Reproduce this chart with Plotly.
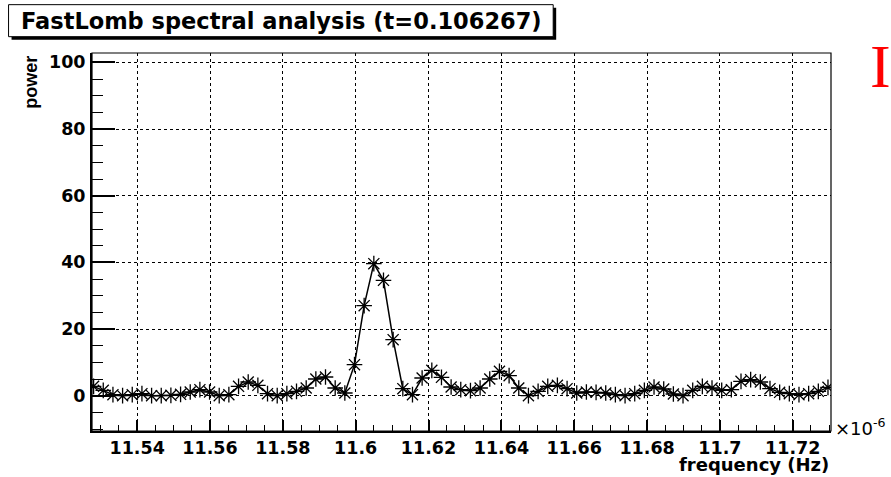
import plotly.graph_objects as go

# ---------------- data ----------------
freq = [11.52804, 11.53069, 11.53335, 11.53600, 11.53865, 11.54131, 11.54396, 11.54661,
        11.54926, 11.55192, 11.55457, 11.55722, 11.55988, 11.56253, 11.56518, 11.56784,
        11.57049, 11.57314, 11.57579, 11.57845, 11.58110, 11.58375, 11.58641, 11.58906,
        11.59171, 11.59437, 11.59702, 11.59967, 11.60232, 11.60498, 11.60763, 11.61028,
        11.61294, 11.61559, 11.61824, 11.62090, 11.62355, 11.62620, 11.62885, 11.63151,
        11.63416, 11.63681, 11.63947, 11.64212, 11.64477, 11.64743, 11.65008, 11.65273,
        11.65538, 11.65804, 11.66069, 11.66334, 11.66600, 11.66865, 11.67130, 11.67396,
        11.67661, 11.67926, 11.68191, 11.68457, 11.68722, 11.68987, 11.69253, 11.69518,
        11.69783, 11.70049, 11.70314, 11.70579, 11.70844, 11.71110, 11.71375, 11.71640,
        11.71906, 11.72171, 11.72436, 11.72702, 11.72967]

power = [2.8, 1.6, 0.3, 0.0, 0.3, 0.6, 0.0, 0.0, 0.1, 0.4, 1.1, 1.8, 1.1, 0.0, 0.3,
         2.8, 4.1, 3.1, 0.6, 0.0, 0.6, 1.3, 2.3, 5.0, 5.6, 2.3, 0.8, 9.3, 27.0, 39.6,
         34.6, 16.8, 2.1, 0.3, 5.3, 7.6, 5.5, 2.6, 1.8, 1.5, 2.3, 5.0, 7.3, 6.0, 2.3,
         0.0, 1.3, 2.8, 3.1, 2.1, 0.8, 1.1, 1.0, 0.8, 0.3, 0.0, 0.6, 1.6, 2.6, 2.0,
         0.5, 0.0, 1.6, 2.8, 2.3, 1.6, 1.8, 4.3, 4.8, 4.1, 2.1, 1.0, 0.6, 0.3, 0.6,
         1.3, 2.5]

x_tickvals = [11.54, 11.56, 11.58, 11.60, 11.62, 11.64, 11.66, 11.68, 11.70, 11.72]
x_ticktext = ["11.54", "11.56", "11.58", "11.6", "11.62", "11.64", "11.66", "11.68", "11.7", "11.72"]
y_tickvals = [0, 20, 40, 60, 80, 100]
y_ticktext = ["0", "20", "40", "60", "80", "100"]

title_text = "FastLomb spectral analysis (t=0.106267)"
x_title = "frequency (Hz)"
y_title = "power"
exponent_text = "\u00d710<sup>-6</sup>"
corner_text = "I"

# ---------------- layout geometry ----------------
W, H = 891, 477
L, R, T, B = 91.5, 60, 53.3, 46
PW = W - L - R
PH = H - T - B


def px(x):
    return (x - L) / PW


def py(y):
    return (H - B - y) / PH


BOLD = "DejaVu Sans"

fig = go.Figure(
    go.Scatter(
        x=freq, y=power, mode="lines+markers",
        line=dict(color="black", width=1.5),
        marker=dict(symbol="asterisk-open", size=13, color="black",
                    line=dict(color="black", width=1.3)),
        hoverinfo="skip",
    )
)

axis_common = dict(
    ticks="inside", tickcolor="black", tickwidth=1.5,
    showline=True, linecolor="black", linewidth=2, mirror=False,
    showgrid=True, gridcolor="black", griddash="dot", gridwidth=1,
    zeroline=False,
)

fig.update_layout(
    width=W, height=H, autosize=False,
    margin=dict(l=L, r=R, t=T, b=B, pad=0),
    paper_bgcolor="white", plot_bgcolor="white",
    showlegend=False,
    xaxis=dict(
        range=[11.5276, 11.7305],
        tickmode="array", tickvals=x_tickvals, ticktext=x_ticktext,
        ticklen=11,
        tickfont=dict(family=BOLD, size=17.5, color="black", weight="bold"),
        minor=dict(tickmode="linear", tick0=11.54, dtick=0.005, ticks="inside",
                   ticklen=6, tickcolor="black", tickwidth=1.2, showgrid=False),
        **axis_common,
    ),
    yaxis=dict(
        range=[-10.6, 102.8],
        tickmode="array", tickvals=y_tickvals, ticktext=y_ticktext,
        ticklen=23, ticklabelstandoff=1,
        tickfont=dict(family=BOLD, size=17.5, color="black", weight="bold"),
        minor=dict(tickmode="linear", tick0=0, dtick=5, ticks="inside",
                   ticklen=11, tickcolor="black", tickwidth=1.2, showgrid=False),
        **axis_common,
    ),
)

shapes = [
    # frame (top / right)
    dict(type="rect", xref="paper", yref="paper", x0=0, x1=1, y0=0, y1=1,
         line=dict(color="black", width=1.2), layer="above"),
    # title box shadow
    dict(type="rect", xref="paper", yref="paper",
         x0=px(11), x1=px(556), y0=py(40), y1=py(8),
         fillcolor="black", line=dict(width=0)),
    # title box
    dict(type="rect", xref="paper", yref="paper",
         x0=px(8), x1=px(553), y0=py(37), y1=py(5),
         fillcolor="white", line=dict(color="black", width=1)),
]
fig.update_layout(shapes=shapes)

annotations = [
    dict(text=title_text, x=px(281), y=py(21), xref="paper", yref="paper",
         xanchor="center", yanchor="middle", showarrow=False,
         font=dict(family=BOLD, size=22.5, color="black", weight="bold")),
    dict(text=y_title, x=px(31), y=py(54), xref="paper", yref="paper",
         xanchor="center", yanchor="top", textangle=-90, showarrow=False,
         font=dict(family="Liberation Sans", size=18, color="black", weight="bold")),
    dict(text=x_title, x=px(831), y=py(464), xref="paper", yref="paper",
         xanchor="right", yanchor="middle", showarrow=False,
         font=dict(family=BOLD, size=18, color="black", weight="bold")),
    dict(text=exponent_text, x=px(833), y=py(427), xref="paper", yref="paper",
         xanchor="left", yanchor="middle", showarrow=False,
         font=dict(family="DejaVu Sans", size=18, color="black")),
    dict(text=corner_text, x=px(881), y=py(66), xref="paper", yref="paper",
         xanchor="center", yanchor="middle", showarrow=False,
         font=dict(family="Liberation Serif", size=62, color="red")),
]
fig.update_layout(annotations=annotations)

fig.write_html("out.html")
